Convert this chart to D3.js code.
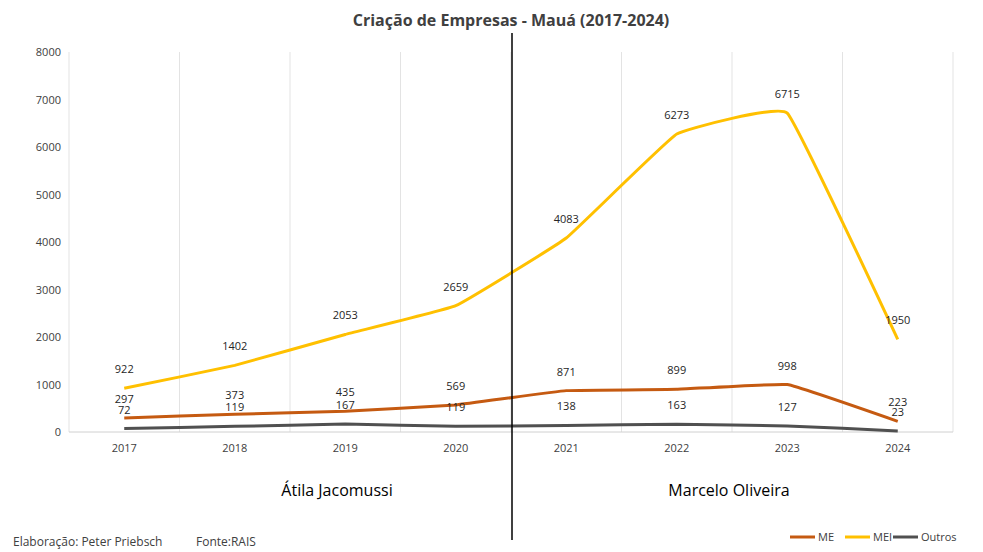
<!DOCTYPE html>
<html><head><meta charset="utf-8">
<script src="https://cdn.jsdelivr.net/npm/d3@7"></script>
<style>body{margin:0;background:#fff}text{font-family:"Open Sans","Noto Sans",sans-serif}</style>
</head><body><svg id="c" width="983" height="552"></svg>
<script>
const years=["2017","2018","2019","2020","2021","2022","2023","2024"];
const me=[297,373,435,569,871,899,998,223];
const mei=[922,1402,2053,2659,4083,6273,6715,1950];
const outros=[72,119,167,119,138,163,127,23];
const yTicks=[0,1000,2000,3000,4000,5000,6000,7000,8000];
const series=[{name:"ME",values:me,color:"#C55A11"},{name:"MEI",values:mei,color:"#FFC000"},{name:"Outros",values:outros,color:"#505050"}];
const svg=d3.select("#c");
const x=d3.scaleBand().domain(years).range([69,953]);
const y=d3.scaleLinear().domain([0,8000]).range([432,52]);
const cx=d=>x(d)+x.bandwidth()/2;
svg.append("g").selectAll("line").data(years.concat(["end"])).join("line")
 .attr("x1",(d,i)=>69+i*x.bandwidth()).attr("x2",(d,i)=>69+i*x.bandwidth())
 .attr("y1",52).attr("y2",432).attr("stroke","#e3e3e3");
svg.append("line").attr("x1",69).attr("x2",953).attr("y1",432).attr("y2",432).attr("stroke","#d0d0d0");
svg.append("g").selectAll("text").data(yTicks).join("text").attr("x",61).attr("y",d=>y(d)+4)
 .attr("text-anchor","end").attr("font-size",11).attr("fill","#404040").text(d=>d);
svg.append("g").selectAll("text").data(years).join("text").attr("x",cx).attr("y",452)
 .attr("text-anchor","middle").attr("font-size",11).attr("fill","#404040").text(d=>d);
const line=d3.line().x((d,i)=>cx(years[i])).y(d=>y(d)).curve(d3.curveCardinal.tension(0.75));
series.slice().reverse().forEach(s=>{
 svg.append("path").attr("d",line(s.values)).attr("fill","none").attr("stroke",s.color).attr("stroke-width",3);
});
series.forEach(s=>{
 svg.append("g").selectAll("text").data(s.values).join("text")
  .attr("x",(d,i)=>cx(years[i])).attr("y",d=>y(d)-15).attr("text-anchor","middle")
  .attr("font-size",11).attr("fill","#262626").text(d=>d);
});
svg.append("line").attr("x1",512).attr("x2",512).attr("y1",33).attr("y2",540).attr("stroke","#000").attr("stroke-width",1.5);
svg.append("text").attr("x",511).attr("y",26).attr("text-anchor","middle").attr("font-size",16).attr("font-weight","bold").attr("fill","#404040").text("Criação de Empresas - Mauá (2017-2024)");
svg.append("text").attr("x",337).attr("y",496).attr("text-anchor","middle").attr("font-size",16).attr("fill","#000").text("Átila Jacomussi");
svg.append("text").attr("x",729).attr("y",496).attr("text-anchor","middle").attr("font-size",16).attr("fill","#000").text("Marcelo Oliveira");
svg.append("text").attr("x",13).attr("y",546).attr("font-size",12).attr("fill","#404040").text("Elaboração: Peter Priebsch");
svg.append("text").attr("x",196).attr("y",546).attr("font-size",12).attr("fill","#404040").text("Fonte:RAIS");
const lx=[790,845,893];
series.forEach((s,i)=>{
 svg.append("line").attr("x1",lx[i]).attr("x2",lx[i]+25).attr("y1",537).attr("y2",537).attr("stroke",s.color).attr("stroke-width",3);
 svg.append("text").attr("x",lx[i]+28).attr("y",541).attr("font-size",11).attr("fill","#404040").text(s.name);
});
</script></body></html>
